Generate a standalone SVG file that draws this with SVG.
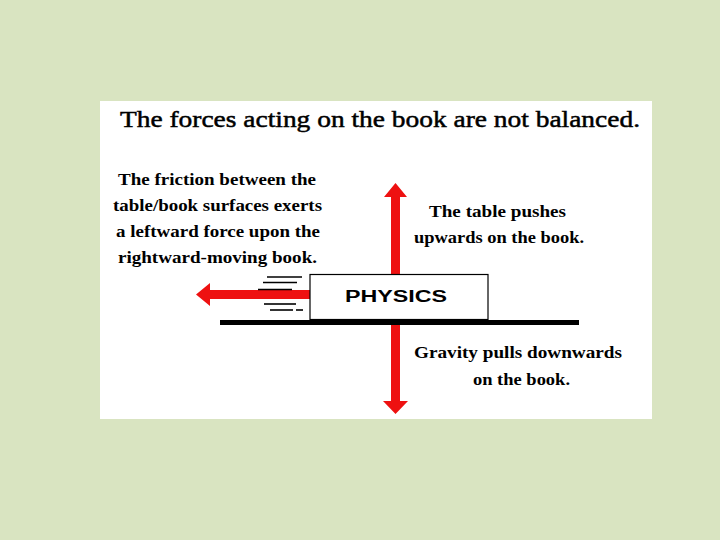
<svg xmlns="http://www.w3.org/2000/svg" width="720" height="540" viewBox="0 0 720 540">
<style>
.t{font-family:"Liberation Serif","Times New Roman",serif;fill:#000}
.lab{font-size:17px;font-weight:bold;text-anchor:middle}
.arrow{fill:#ee1111}
.spd{stroke:#000;stroke-width:1.6}
</style>
<rect width="720" height="540" fill="#d9e4c1"/>
<rect x="100" y="101" width="552" height="318" fill="#ffffff"/>
<text class="t" x="120" y="127" font-size="24" stroke="#000" stroke-width="0.5" textLength="520" lengthAdjust="spacingAndGlyphs">The forces acting on the book are not balanced.</text>
<g id="connectors">
<polygon id="arrow-up" class="arrow" points="391,274 391,197 384,197 395.5,183 407,197 400,197 400,274"/>
<polygon id="arrow-down" class="arrow" points="391,325 391,401 383,401 395.5,414 408,401 400,401 400,325"/>
<polygon id="arrow-left" class="arrow" points="310,290 210,290 210,283 196,294.5 210,306 210,299 310,299"/>
<g id="speed-lines">
<line class="spd" x1="267" y1="277" x2="302" y2="277"/>
<line class="spd" x1="263" y1="282.5" x2="297" y2="282.5"/>
<line class="spd" x1="258" y1="289.5" x2="292" y2="289.5"/>
<line class="spd" x1="264" y1="304" x2="296" y2="304"/>
<line class="spd" x1="270" y1="310" x2="293" y2="310"/>
<line class="spd" x1="296" y1="310" x2="303" y2="310"/>
</g>
</g>
<g id="table">
<rect x="220" y="320" width="359" height="5" fill="#000"/>
</g>
<g id="book">
<rect x="310" y="274.5" width="178" height="45" fill="#fff" stroke="#000" stroke-width="1.2"/>
<text x="345" y="302" font-family="Liberation Sans, Arial, sans-serif" font-size="16" font-weight="bold" textLength="102" lengthAdjust="spacingAndGlyphs">PHYSICS</text>
</g>
<g id="friction-label" class="t lab">
<text x="217" y="185" textLength="198" lengthAdjust="spacingAndGlyphs">The friction between the</text>
<text x="217.5" y="211" textLength="209" lengthAdjust="spacingAndGlyphs">table/book surfaces exerts</text>
<text x="218" y="237" textLength="204" lengthAdjust="spacingAndGlyphs">a leftward force upon the</text>
<text x="217.5" y="263" textLength="199" lengthAdjust="spacingAndGlyphs">rightward-moving book.</text>
</g>
<g id="normal-label" class="t lab">
<text x="497.5" y="217" textLength="137" lengthAdjust="spacingAndGlyphs">The table pushes</text>
<text x="499" y="243" textLength="170" lengthAdjust="spacingAndGlyphs">upwards on the book.</text>
</g>
<g id="gravity-label" class="t lab">
<text x="518" y="358" textLength="208" lengthAdjust="spacingAndGlyphs">Gravity pulls downwards</text>
<text x="521.5" y="385" textLength="97" lengthAdjust="spacingAndGlyphs">on the book.</text>
</g>
</svg>
